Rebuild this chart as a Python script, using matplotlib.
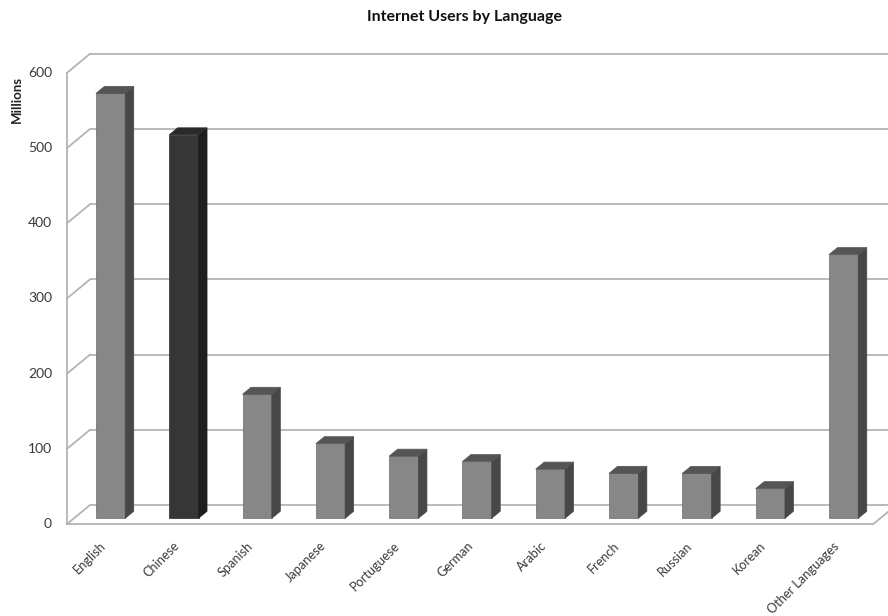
import matplotlib
matplotlib.use("Agg")
import matplotlib.pyplot as plt
from matplotlib.patches import Polygon

# ---- data ----
languages = ["English", "Chinese", "Spanish", "Japanese", "Portuguese", "German",
             "Arabic", "French", "Russian", "Korean", "Other Languages"]
users = [565.0, 509.9, 164.9, 99.2, 82.6, 75.4, 65.4, 59.8, 59.7, 39.4, 350.6]
highlight = "Chinese"
yticks = [0, 100, 200, 300, 400, 500, 600]
title = "Internet Users by Language"
ylabel = "Millions"

plt.rcParams['font.family'] = ['Lato', 'DejaVu Sans']

fig = plt.figure(figsize=(8.88, 6.16), dpi=100)
ax = fig.add_axes([0, 0, 1, 1])
ax.axis('off')

# oblique projection parameters (depth offset in data units)
DX, DY = 0.314, 25.3
n = len(languages)
ax.set_xlim(-1.414, 10.70)
ax.set_ylim(-122.3, 696.8)

grid_c = '#b4b4b4'
lw = 1.3
x0, x1 = -0.5, n - 0.5
ymax = yticks[-1]

# back wall gridlines
for t in yticks:
    ax.plot([x0 + DX, x1 + DX + 1], [t + DY, t + DY], color=grid_c, lw=lw, zorder=1,
            solid_capstyle='butt')
    # left wall diagonals
    ax.plot([x0, x0 + DX], [t, t + DY], color=grid_c, lw=lw, zorder=1)
# front vertical axis
ax.plot([x0, x0], [0, ymax], color=grid_c, lw=lw, zorder=1)
# floor front edge and right edge
ax.plot([x0, x1], [0, 0], color=grid_c, lw=lw, zorder=1)
ax.plot([x1, x1 + DX], [0, DY], color=grid_c, lw=lw, zorder=1)

# bars
d0, d1 = 0.30, 0.67
w = 0.4
for i, (lab, v) in enumerate(zip(languages, users)):
    if lab == highlight:
        fc, sc, tc = '#363636', '#1e1e1e', '#2a2a2a'
    else:
        fc, sc, tc = '#878787', '#474747', '#555555'
    xl = i - w / 2 + d0 * DX
    xr = i + w / 2 + d0 * DX
    yb = d0 * DY
    yt = v + d0 * DY
    ddx = (d1 - d0) * DX
    ddy = (d1 - d0) * DY
    front = Polygon([(xl, yb), (xr, yb), (xr, yt), (xl, yt)], closed=True,
                    facecolor=fc, edgecolor='#6a6a6a' if lab != highlight else '#2a2a2a',
                    lw=0.5, zorder=3)
    side = Polygon([(xr, yb), (xr + ddx, yb + ddy), (xr + ddx, yt + ddy), (xr, yt)],
                   closed=True, facecolor=sc, edgecolor=sc, lw=0.5, zorder=3)
    top = Polygon([(xl, yt), (xr, yt), (xr + ddx, yt + ddy), (xl + ddx, yt + ddy)],
                  closed=True, facecolor=tc, edgecolor=tc, lw=0.5, zorder=3)
    for p in (front, side, top):
        ax.add_patch(p)
    ax.text(i - 0.05, -21, lab, rotation=45, rotation_mode='anchor', ha='right', va='top',
            fontsize=9.2, color='#3a3a3a', zorder=4)

# y tick labels
for t in yticks:
    ax.text(x0 - 0.205, t, str(t), ha='right', va='center', fontsize=10, color='#3a3a3a')

ax.text(-1.182, 564, ylabel, rotation=90, ha='center', va='center', fontsize=9.5,
        fontweight='bold', color='#202020')
fig.text(0.523, 0.972, title, ha='center', va='center', fontsize=11.5, fontweight='bold',
         color='#111111')

fig.savefig('out.png', dpi=100)
